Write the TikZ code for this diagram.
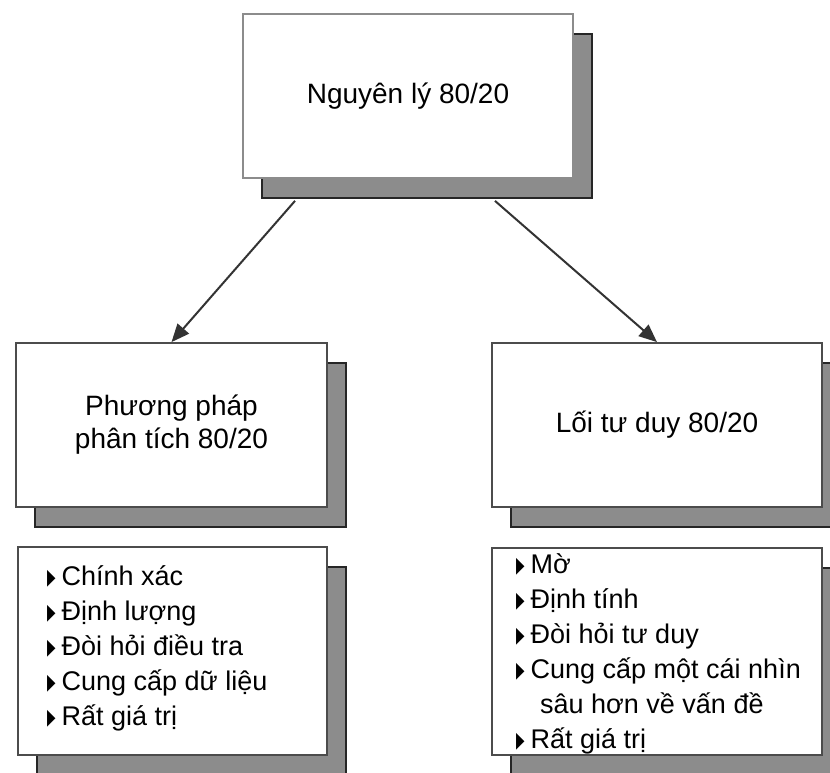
\documentclass[tikz,border=0pt]{standalone}
\usepackage{graphicx}
\usepackage{fontspec}
\setmainfont{Liberation Sans}
\newfontfamily\symfont{DejaVu Sans}
\usetikzlibrary{arrows.meta,shadows}
\newcommand{\tri}{{\symfont\fontsize{22bp}{22bp}\selectfont\raisebox{1bp}{\scalebox{0.5}[1]{▶}}}\hspace{6bp}}

\begin{document}
\begin{tikzpicture}[x=1bp,y=-1bp,
	box/.style={draw=black!70,line width=1.8bp,fill=white,minimum width=330bp,minimum height=164bp,
		copy shadow={shadow xshift=19bp,shadow yshift=-20bp,fill=black!45,draw=black!85,line width=1.8bp}},
	big/.style={font=\fontsize{28bp}{33bp}\selectfont,align=center},
	list/.style={font=\fontsize{27bp}{35bp}\selectfont,align=left,anchor=west,inner sep=0pt},
	arr/.style={draw=black!80,line width=2bp,-{Triangle[length=18bp,width=15bp]}}]
	\useasboundingbox (0,0) rectangle (830,773);
	\node[box,big,draw=black!45]	(top)	at (408,96)	{Nguyên lý 80/20};
	\node[box,big,minimum width=311bp]	(lmid)	at (171.5,425)	{Phương pháp\\phân tích 80/20};
	\node[box,big]	(rmid)	at (657,425)	{Lối tư duy 80/20};
	\node[box,minimum width=309bp,minimum height=208bp]	(lbot)	at (172.5,651)	{};
	\node[box,minimum height=207bp]	(rbot)	at (657,651.5)	{};
	\node[list]	(llist)	at (47,648)	{\tri Chính xác\\\tri Định lượng\\\tri Đòi hỏi điều tra\\\tri Cung cấp dữ liệu\\\tri Rất giá trị};
	\node[list]	(rlist)	at (516,654)	{\tri Mờ\\\tri Định tính\\\tri Đòi hỏi tư duy\\\tri Cung cấp một cái nhìn\\\hspace*{24bp}sâu hơn về vấn đề\\\tri Rất giá trị};
	\draw[arr]	([shift={(-113,22)}]top.south) -- (lmid.north);
	\draw[arr]	([shift={(87,22)}]top.south) -- (rmid.north);
\end{tikzpicture}
\end{document}
